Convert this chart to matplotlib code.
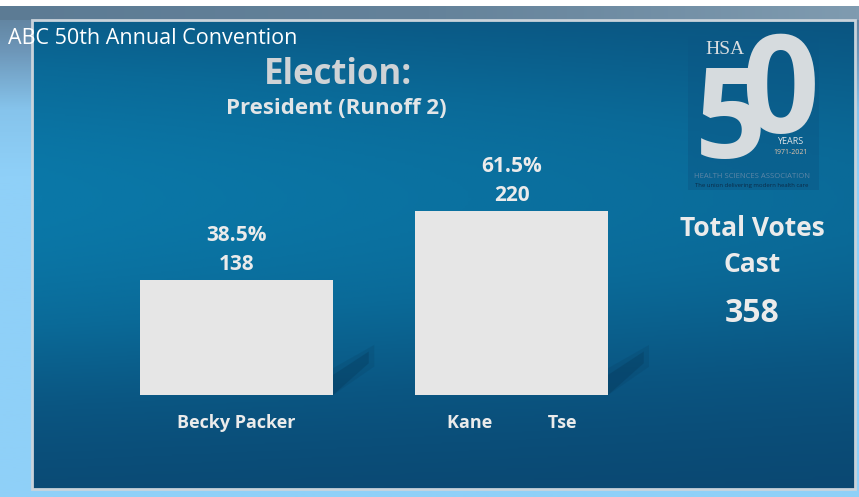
import matplotlib
matplotlib.use("Agg")
import matplotlib.pyplot as plt
import numpy as np
from matplotlib.colors import LinearSegmentedColormap
from matplotlib.patches import Polygon, Rectangle

candidates = ["Becky Packer", "Kane            Tse"]
votes = [138, 220]
percents = ["38.5%", "61.5%"]
total_votes = 358

W, H = 859, 497
BOLD = ["Open Sans", "DejaVu Sans"]
TXT = "#ebebeb"

fig = plt.figure(figsize=(W / 100, H / 100), dpi=100)

# background axes in pixel coordinates (y down)
bg = fig.add_axes([0, 0, 1, 1])
bg.set_xlim(0, W)
bg.set_ylim(H, 0)
bg.axis("off")

# outer frame: light blue with grey-blue top
outer = LinearSegmentedColormap.from_list(
    "outer", [(0, "#5d7c95"), (0.1, "#6d96b8"), (0.22, "#86c4ec"), (0.35, "#8fd0f8"), (1, "#8fd0f8")])
g = np.linspace(0, 1, 256).reshape(-1, 1)
bg.imshow(g, cmap=outer, aspect="auto", extent=[0, W, H, 0], zorder=0)
bg.add_patch(Rectangle((0, 0), W, 6, facecolor="white", edgecolor="none", zorder=1))
top = LinearSegmentedColormap.from_list("top", ["#5c7b94", "#64829a", "#7f9bb0"])
bg.imshow(np.linspace(0, 1, 256).reshape(1, -1), cmap=top, aspect="auto",
          extent=[0, W, 20, 6], zorder=1)

# slide with blue gradient
sx0, sy0, sx1, sy1 = 32, 20, 855, 489
yy, xx = np.mgrid[0:1:200j, 0:1:300j]
v = np.exp(-((yy - 0.38) / 0.42) ** 2) * 0.9 + 0.1
v = v * (1 - 0.3 * xx) - 0.12 * np.clip(yy - 0.6, 0, 1)
slide = LinearSegmentedColormap.from_list("slide", ["#0a4670", "#0b5682", "#0a6a98", "#0a78a8"])
bg.imshow(v, cmap=slide, aspect="auto", extent=[sx0, sx1, sy1, sy0], zorder=2, vmin=0.05, vmax=1.0)
bg.add_patch(Rectangle((sx0, sy0), sx1 - sx0, sy1 - sy0, facecolor="none",
                       edgecolor="#c9d3db", linewidth=2, zorder=3))

# header text
bg.text(8, 39, "ABC 50th Annual Convention", color="white", fontsize=15.5,
        family=["Open Sans", "DejaVu Sans"], va="center", ha="left", zorder=10)
bg.text(338, 75, "Election:", color="#cfd3d6", fontsize=25, fontweight="bold",
        family=BOLD, ha="center", va="center", zorder=10)
bg.text(336, 109, "President (Runoff 2)", color="#e2e5e7", fontsize=16, fontweight="bold",
        family=BOLD, ha="center", va="center", zorder=10)

# total votes
bg.text(752, 228, "Total Votes", color=TXT, fontsize=19, fontweight="bold",
        family=BOLD, ha="center", va="center", zorder=10)
bg.text(752, 265, "Cast", color=TXT, fontsize=19, fontweight="bold",
        family=BOLD, ha="center", va="center", zorder=10)
bg.text(752, 314, str(total_votes), color=TXT, fontsize=23, fontweight="bold",
        family=BOLD, ha="center", va="center", zorder=10)

# HSA logo
bg.add_patch(Rectangle((688, 36), 131, 154, facecolor="#0a5785", edgecolor="none", alpha=0.45, zorder=4))
bg.text(725, 50, "HSA", color="#d9dde0", fontsize=14, family=["Liberation Serif"],
        ha="center", va="center", zorder=6)
bg.text(731, 158, "5", color="#d6dbde", fontsize=90, fontweight="bold", family=BOLD,
        ha="center", va="baseline", zorder=5)
bg.text(780, 133, "0", color="#d6dbde", fontsize=98, fontweight="bold", family=BOLD,
        ha="center", va="baseline", zorder=6)
bg.text(790, 141, "YEARS", color="#e0e4e6", fontsize=6.5, family=["Open Sans"],
        ha="center", va="center", zorder=7)
bg.text(791, 152, "1971-2021", color="#e2c2a8", fontsize=5, family=["Open Sans"],
        ha="center", va="center", zorder=7)
bg.text(752, 177, "HEALTH SCIENCES ASSOCIATION", color="#5d86a6", fontsize=5.5,
        family=["Open Sans"], ha="center", va="center", zorder=7)
bg.text(752, 185, "The union delivering modern health care", color="#0a2c48", fontsize=4.3,
        family=["Open Sans"], ha="center", va="center", zorder=7)

# bar chart axes
ax = fig.add_axes([99 / W, 102 / H, 550 / W, 209 / H])
ax.set_xlim(-0.5, 1.5)
ax.set_ylim(0, 250)
ax.patch.set_alpha(0)
x = np.arange(len(votes))
bw = 0.702

# soft shadows to the lower right of the bars
for xi in x:
    r = xi + bw / 2
    outer_sh = Polygon([(r, 0), (r, 32), (r + 0.15, 60), (r + 0.15, 34)],
                       closed=True, facecolor="#042b48", edgecolor="none", alpha=0.12, zorder=1)
    inner_sh = Polygon([(r, 0), (r, 24), (r + 0.13, 52), (r + 0.13, 38)],
                       closed=True, facecolor="#042b48", edgecolor="none", alpha=0.22, zorder=1)
    ax.add_patch(outer_sh)
    ax.add_patch(inner_sh)

ax.bar(x, votes, width=bw, color="#e6e6e6", edgecolor="none", zorder=3)

for xi, val, pct in zip(x, votes, percents):
    ax.annotate(str(val), (xi, val), xytext=(0, 11), textcoords="offset points",
                ha="center", va="center", color=TXT, fontsize=15, fontweight="bold", family=BOLD)
    ax.annotate(pct, (xi, val), xytext=(0, 32), textcoords="offset points",
                ha="center", va="center", color=TXT, fontsize=15, fontweight="bold", family=BOLD)

ax.set_xticks(x)
ax.set_xticklabels(candidates, color=TXT, fontsize=13, fontweight="bold", family=BOLD)
ax.tick_params(axis="x", length=0, pad=14)
ax.set_yticks([])
for s in ax.spines.values():
    s.set_visible(False)

fig.savefig("out.png", dpi=100)
